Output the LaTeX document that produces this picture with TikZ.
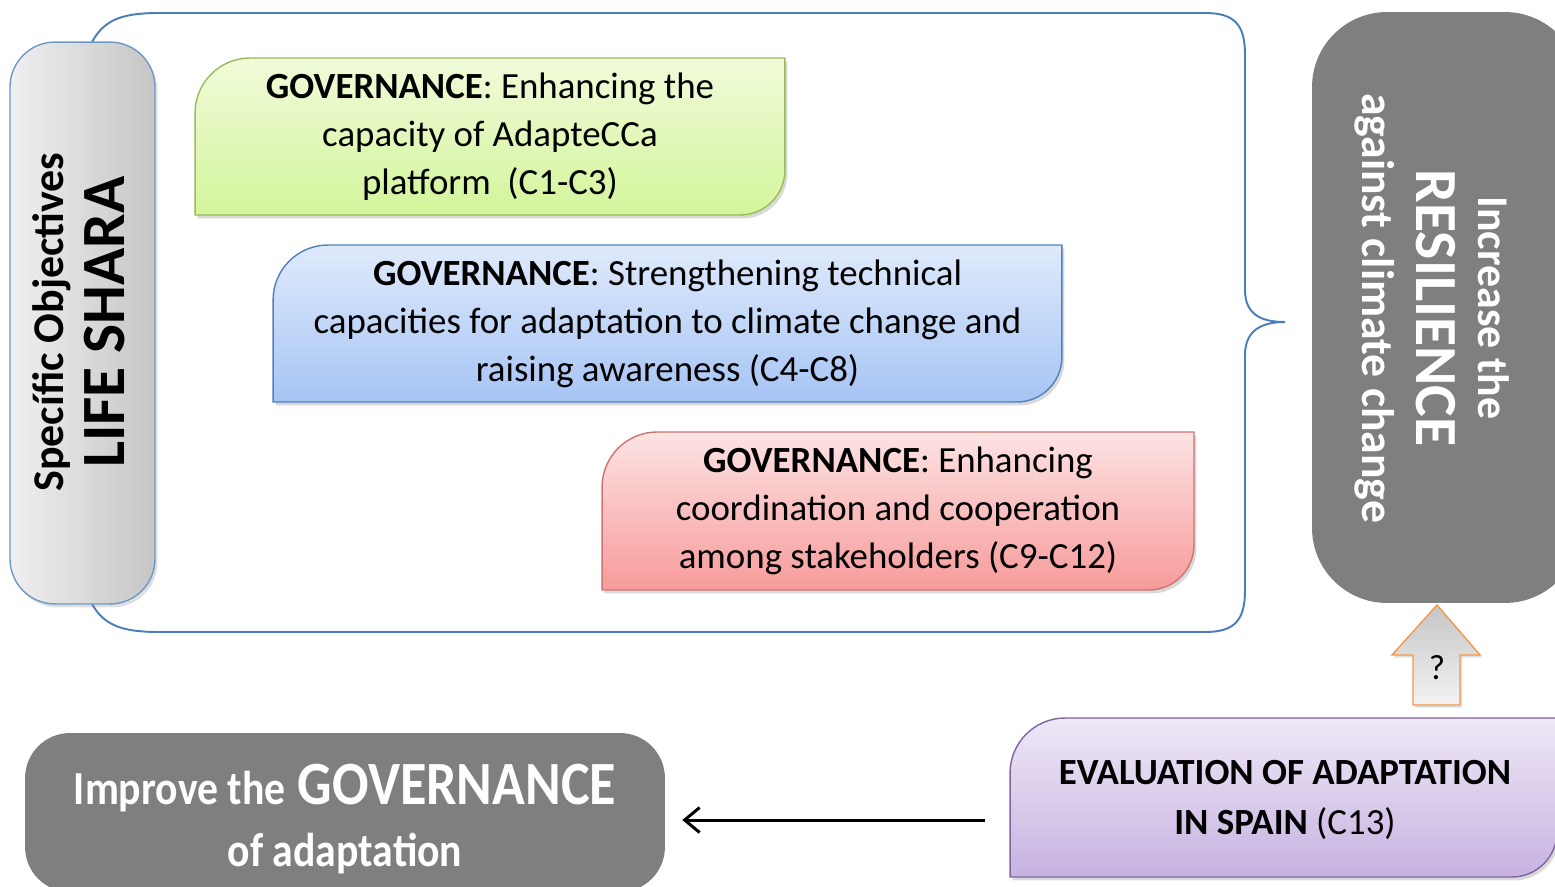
\documentclass[tikz,border=0pt]{standalone}
\usepackage{fontspec}
\setmainfont{Carlito}
\newfontfamily\narrowfont[FakeStretch=0.88]{Carlito}
\usetikzlibrary{backgrounds,shadows,arrows.meta}
\definecolor{frameblue}{HTML}{4A7EBB}
\definecolor{goalgray}{HTML}{7F7F7F}
\definecolor{greentop}{HTML}{F1FBDA}
\definecolor{greenbot}{HTML}{D3F59B}
\definecolor{greenline}{HTML}{9BBB59}
\definecolor{bluetop}{HTML}{DFEAFB}
\definecolor{bluebot}{HTML}{A6C4F4}
\definecolor{blueline}{HTML}{4F81BD}
\definecolor{redtop}{HTML}{FDE3E3}
\definecolor{redbot}{HTML}{F79B9B}
\definecolor{redline}{HTML}{C0504D}
\definecolor{purpletop}{HTML}{EFE8F7}
\definecolor{purplebot}{HTML}{C6B2E0}
\definecolor{purpleline}{HTML}{8064A2}
\definecolor{arroworange}{HTML}{F79646}

\begin{document}
\begin{tikzpicture}[x=0.02cm,y=-0.02cm]
        %
        % `area' reserves the place of a box, its outline is drawn on the background.
        % `leaf' is used for the objective boxes (two rounded corners).
        % `goal' is used for the grey goal boxes.
        \tikzstyle{area} = [inner sep=0pt,outer sep=0pt]
        \tikzstyle{boxtext} = [align=center,font=\fontsize{21}{27.3}\selectfont]
        \tikzstyle{leaf} = [line width=0.8pt,drop shadow={shadow xshift=0.05cm,shadow yshift=-0.07cm,opacity=0.3}]
        \tikzstyle{goal} = [fill=goalgray,inner sep=0pt,text=white]
        %
        \path[use as bounding box,clip] (0,0) rectangle (1555,886);
        %
        % Objectives
        \node[area,minimum width=11.8cm,minimum height=3.14cm] (green) at (490,136.5) {};
        \node[area,minimum width=15.78cm,minimum height=3.14cm] (blue) at (667.5,323.5) {};
        \node[area,minimum width=11.84cm,minimum height=3.16cm] (red) at (898,511) {};
        \node[boxtext] (greentxt) at (green) {\textbf{GOVERNANCE}: Enhancing the\\capacity of AdapteCCa\\platform~~(C1-C3)};
        \node[boxtext] (bluetxt) at (blue) {\textbf{GOVERNANCE}: Strengthening technical\\capacities for adaptation to climate change and\\raising awareness (C4-C8)};
        \node[boxtext] (redtxt) at (red) {\textbf{GOVERNANCE}: Enhancing\\coordination and cooperation\\among stakeholders (C9-C12)};
        %
        % Left label
        \node[area,minimum width=2.9cm,minimum height=11.24cm,left color=gray!12,right color=gray!45,
              draw=frameblue!80,line width=0.8pt,rounded corners=0.9cm,
              drop shadow={shadow xshift=0.05cm,shadow yshift=-0.07cm,opacity=0.25}] (pill) at (82.5,323) {};
        \node[rotate=90,align=center,font=\fontsize{35}{35}\selectfont\bfseries] (pilltxt) at (79,322)
              {{\fontsize{25}{25}\selectfont Specífic Objectives}\\LIFE SHARA};
        %
        % Goals
        \node[goal,minimum width=5.36cm,minimum height=11.82cm,rounded corners=1.5cm] (resil) at (1446,307.5) {};
        \node[rotate=-90,align=center,text=white,font=\fontsize{31}{31}\selectfont\bfseries] (resiltxt) at (1432,308)
              {{\fontsize{25}{25}\selectfont Increase the}\\[4pt]{\fontsize{34}{34}\selectfont RESILIENCE}\\
               {\fontsize{26}{26}\selectfont against climate change}};
        \node[goal,minimum width=12.8cm,minimum height=3.18cm,rounded corners=0.9cm] (improve) at (345,812.5) {};
        \node[align=center,text=white,font=\narrowfont\bfseries\fontsize{35}{35}\selectfont] (improvetxt) at (345,819)
              {{\fontsize{27}{27}\selectfont Improve the} GOVERNANCE\\{\fontsize{27}{27}\selectfont of adaptation}};
        %
        % Evaluation
        \node[area,minimum width=10.94cm,minimum height=3.18cm] (eval) at (1283.5,797.5) {};
        \node[align=center,font=\fontsize{21}{28.4}\selectfont] (evaltxt) at (1285,800)
              {\textbf{EVALUATION OF ADAPTATION}\\\textbf{IN SPAIN} (C13)};
        %
        % Arrows
        \coordinate (arrowlevel) at (0,820);
        \draw[line width=1.7pt,-{Straight Barb[length=0.3cm,width=0.5cm]},shorten <=0.5cm,shorten >=0.34cm]
              (eval.west |- arrowlevel) -- (improve.east |- arrowlevel);
        \path[top color=gray!45,bottom color=gray!10,draw=arroworange,line width=0.8pt,
              drop shadow={shadow xshift=0.04cm,shadow yshift=-0.05cm,opacity=0.25}]
              (1437,605) -- (1480,655) -- (1460,655) -- (1460,705) -- (1413,705) -- (1413,655) -- (1392,655) -- cycle;
        \node[font=\fontsize{20}{20}\selectfont] (qmark) at (1437,668) {?};
        %
        % Background: frame and box outlines
        \begin{pgfonlayer}{background}
        \draw[frameblue,line width=1.1pt] (92,42) .. controls (105,18) and (125,13) .. (160,13) -- (1205,13)
              .. controls (1235,13) and (1245,25) .. (1245,55) -- (1245,290)
              .. controls (1245,315) and (1262,322) .. (1285,322)
              .. controls (1262,322) and (1245,330) .. (1245,355) -- (1245,590)
              .. controls (1245,620) and (1235,632) .. (1205,632) -- (160,632)
              .. controls (125,632) and (105,627) .. (92,604);
        \path[leaf,top color=greentop,bottom color=greenbot,draw=greenline]
              (green.west) [rounded corners=1.1cm] -- (green.north west) [sharp corners] -- (green.north east)
              [rounded corners=0.9cm] -- (green.south east) [sharp corners] -- (green.south west) -- cycle;
        \path[leaf,top color=bluetop,bottom color=bluebot,draw=blueline]
              (blue.west) [rounded corners=1.1cm] -- (blue.north west) [sharp corners] -- (blue.north east)
              [rounded corners=0.9cm] -- (blue.south east) [sharp corners] -- (blue.south west) -- cycle;
        \path[leaf,top color=redtop,bottom color=redbot,draw=redline!80]
              (red.west) [rounded corners=1.1cm] -- (red.north west) [sharp corners] -- (red.north east)
              [rounded corners=0.9cm] -- (red.south east) [sharp corners] -- (red.south west) -- cycle;
        \path[leaf,top color=purpletop,bottom color=purplebot,draw=purpleline]
              (eval.west) [rounded corners=1.1cm] -- (eval.north west) [sharp corners] -- (eval.north east)
              [rounded corners=0.9cm] -- (eval.south east) [sharp corners] -- (eval.south west) -- cycle;
        \end{pgfonlayer}
        %
\end{tikzpicture}
\end{document}
